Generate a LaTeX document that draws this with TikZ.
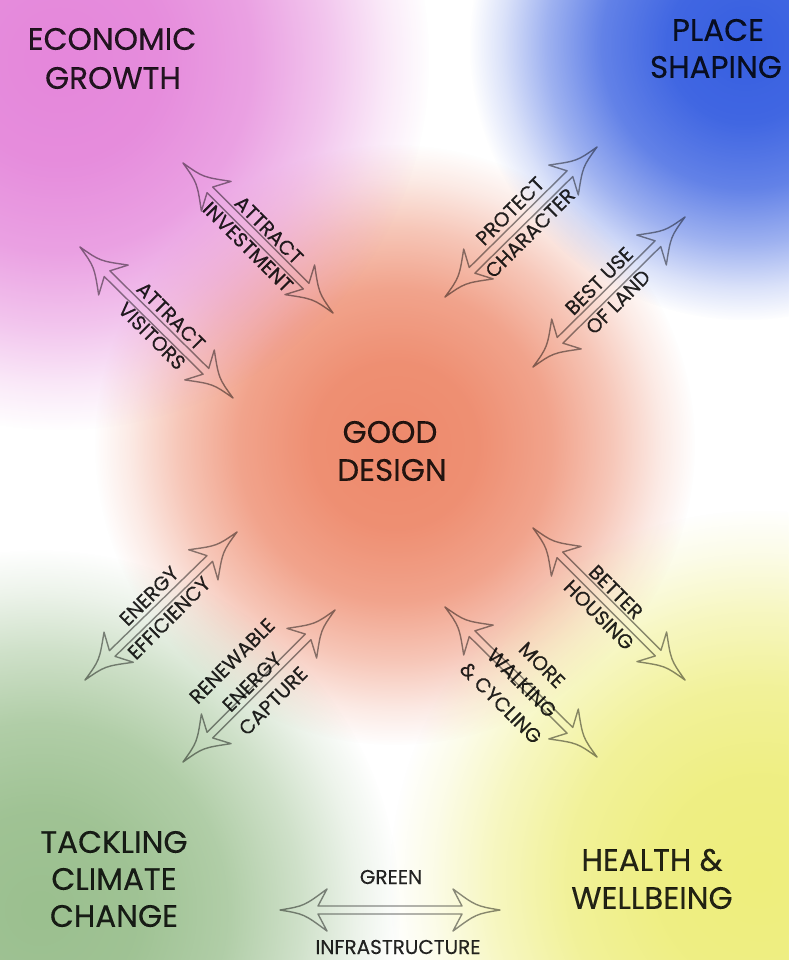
\documentclass[tikz,border=0pt]{standalone}
\usepackage{fontspec}
\setmainfont{Poppins}[UprightFeatures={FakeBold=0.3}]
\usetikzlibrary{fadings}

\pgfdeclareradialshading{blobshade}{\pgfpointorigin}{color(0bp)=(white); color(7bp)=(white!95!black); color(13bp)=(white!78!black); color(18bp)=(white!48!black); color(22bp)=(white!18!black); color(25bp)=(black); color(50bp)=(black)}
\pgfdeclarefading{blobfade}{\pgfuseshading{blobshade}}

\definecolor{cpink}{RGB}{229,135,219}
\definecolor{cblue}{RGB}{55,95,225}
\definecolor{csalmon}{RGB}{238,138,108}
\definecolor{cgreen}{RGB}{155,192,143}
\definecolor{cyellow}{RGB}{238,238,125}

\tikzset{
  arrowline/.style={draw=black, draw opacity=0.45, line width=1.4pt, line join=round},
  title/.style={font=\fontsize{31}{38}\selectfont, text=black, text opacity=0.85, inner sep=0pt},
  lbl/.style={font=\fontsize{20}{26}\selectfont, text=black, text opacity=0.85, inner sep=0pt},
  pics/dblarrow/.style={code={
    \draw[arrowline] (0,0) .. controls (24,4) .. (47,21) -- (38,4) -- ({#1-38},4) -- ({#1-47},21)
      .. controls ({#1-24},4) .. (#1,0) .. controls ({#1-24},-4) .. ({#1-47},-21)
      -- ({#1-38},-4) -- (38,-4) -- (47,-21) .. controls (24,-4) .. (0,0) -- cycle;
  }}
}

\newcommand\hollowdbl[2]{%
  \pgfmathanglebetweenpoints{\pgfpointanchor{#1}{center}}{\pgfpointanchor{#2}{center}}%
  \let\hdang\pgfmathresult
  \pgfpointdiff{\pgfpointanchor{#1}{center}}{\pgfpointanchor{#2}{center}}%
  \pgfgetlastxy{\hdx}{\hdy}%
  \pgfmathsetmacro\hdlen{veclen(\hdx,\hdy)}%
  \pic[rotate=\hdang] at (#1) {dblarrow=\hdlen};
}

\begin{document}
\begin{tikzpicture}[x=1pt,y=-1pt]
\useasboundingbox (0,0) rectangle (788,960);
\fill[white] (0,0) rectangle (788,960);

% colour blobs
\fill[csalmon, path fading=blobfade] (395,445) circle (300);
\fill[cpink, path fading=blobfade] (60,60) circle (370);
\fill[cblue, path fading=blobfade] (745,45) circle (275);
\fill[cgreen, path fading=blobfade] (40,910) circle (360);
\fill[cyellow, path fading=blobfade] (760,880) circle (370);

% arrow end points
\coordinate (a1s) at (183,163); \coordinate (a1e) at (333,313);
\coordinate (a2s) at (445,297); \coordinate (a2e) at (597,147);
\coordinate (a3s) at (533,367); \coordinate (a3e) at (685,217);
\coordinate (a4s) at (80,247);  \coordinate (a4e) at (233,398);
\coordinate (a5s) at (85,680);  \coordinate (a5e) at (237,532);
\coordinate (a6s) at (183,762); \coordinate (a6e) at (335,610);
\coordinate (a7s) at (445,607); \coordinate (a7e) at (597,757);
\coordinate (a8s) at (533,528); \coordinate (a8e) at (685,680);
\coordinate (a9s) at (280,910); \coordinate (a9e) at (500,910);

\hollowdbl{a1s}{a1e}
\hollowdbl{a2s}{a2e}
\hollowdbl{a3s}{a3e}
\hollowdbl{a4s}{a4e}
\hollowdbl{a5s}{a5e}
\hollowdbl{a6s}{a6e}
\hollowdbl{a7s}{a7e}
\hollowdbl{a8s}{a8e}
\hollowdbl{a9s}{a9e}

% titles
\node[title] (t1a) at (112,39) {ECONOMIC};
\node[title] (t1b) at (113,78) {GROWTH};
\node[title] (t2a) at (718,30) {PLACE};
\node[title] (t2b) at (716,67) {SHAPING};
\node[title] (t3a) at (390,432) {GOOD};
\node[title] (t3b) at (392,470) {DESIGN};
\node[title] (t4a) at (114,842) {TACKLING};
\node[title] (t4b) at (114,879) {CLIMATE};
\node[title] (t4c) at (114,916) {CHANGE};
\node[title] (t5a) at (652,860) {HEALTH \&};
\node[title] (t5b) at (652,898) {WELLBEING};

% arrow labels
\node[lbl, rotate=-45] (l1a) at (269,230) {ATTRACT};
\node[lbl, rotate=-45] (l1b) at (248,247) {INVESTMENT};
\node[lbl, rotate=45] (l2a) at (510,211) {PROTECT};
\node[lbl, rotate=45] (l2b) at (530,233) {CHARACTER};
\node[lbl, rotate=45] (l3a) at (599,281) {BEST USE};
\node[lbl, rotate=45] (l3b) at (618,302) {OF LAND};
\node[lbl, rotate=-45] (l4a) at (171,316) {ATTRACT};
\node[lbl, rotate=-45] (l4b) at (152,336) {VISITORS};
\node[lbl, rotate=45] (l5a) at (149,596) {ENERGY};
\node[lbl, rotate=45] (l5b) at (169,618) {EFFICIENCY};
\node[lbl, rotate=45] (l6a) at (232,661) {RENEWABLE};
\node[lbl, rotate=45] (l6b) at (252,682) {ENERGY};
\node[lbl, rotate=45] (l6c) at (273,701) {CAPTURE};
\node[lbl, rotate=-45] (l7a) at (542,665) {MORE};
\node[lbl, rotate=-45] (l7b) at (522,683) {WALKING};
\node[lbl, rotate=-45] (l7c) at (501,703) {\& CYCLING};
\node[lbl, rotate=-45] (l8a) at (616,592) {BETTER};
\node[lbl, rotate=-45] (l8b) at (599,615) {HOUSING};
\node[lbl] (l9a) at (391,877) {GREEN};
\node[lbl] (l9b) at (398,947) {INFRASTRUCTURE};
\end{tikzpicture}
\end{document}
